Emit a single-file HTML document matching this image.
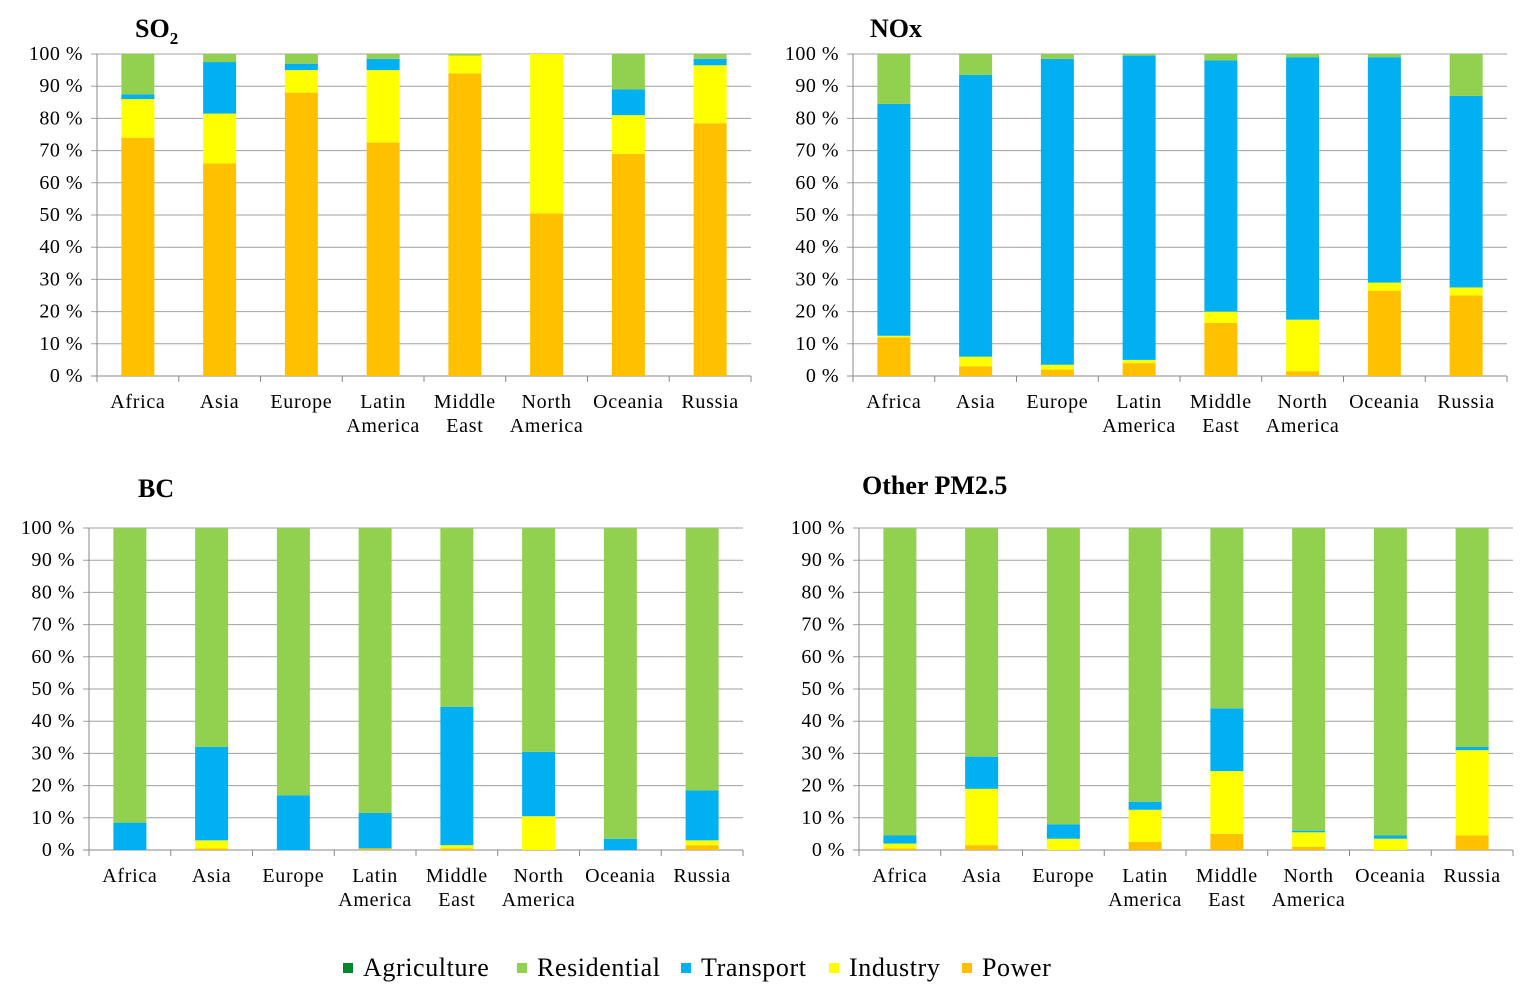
<!DOCTYPE html>
<html><head><meta charset="utf-8"><style>
body{margin:0;background:#fff;width:1533px;height:1001px;overflow:hidden;font-family:"Liberation Serif",serif}
</style></head><body>
<svg id="chart" width="1533" height="1001" xmlns="http://www.w3.org/2000/svg" font-family="Liberation Serif, serif"></svg>
<script>
const categories=[["Africa"],["Asia"],["Europe"],["Latin","America"],["Middle","East"],["North","America"],["Oceania"],["Russia"]];
const sectors=["Agriculture","Residential","Transport","Industry","Power"];
const colors={Agriculture:"#00882f",Residential:"#92d050",Transport:"#00b0f0",Industry:"#ffff00",Power:"#ffc000"};
const yTicks=[0,10,20,30,40,50,60,70,80,90,100];
const so2Power=[74,66,88,72.5,94,50.5,69,78.5];
const so2Industry=[12,15.5,7,22.5,5.5,49.5,12,18];
const so2Transport=[1.5,16,2,3.5,0,0,8,2];
const so2Residential=[12.5,2.5,3,1.5,0.5,0,11,1.5];
const noxPower=[12,3,2,4,16.5,1.5,26.5,25];
const noxIndustry=[0.5,3,1.5,1,3.5,16,2.5,2.5];
const noxTransport=[72,87.5,95,94.5,78,81.5,70,59.5];
const noxResidential=[15.5,6.5,1.5,0.5,2,1,1,13];
const bcPower=[0,0.5,0,0.5,0.5,0,0,1.5];
const bcIndustry=[0,2.5,0,0,1,10.5,0,1.5];
const bcTransport=[8.5,29,17,11,43,20,3.5,15.5];
const bcResidential=[91.5,68,83,88.5,55.5,69.5,96.5,81.5];
const pmPower=[0.5,1.5,0,2.5,5,1,0,4.5];
const pmIndustry=[1.5,17.5,3.5,10,19.5,4.5,3.5,26.5];
const pmTransport=[2.5,10,4.5,2.5,19.5,0.5,1,1];
const pmResidential=[95.5,71,92,85,56,94,95.5,68];
const zero=[0,0,0,0,0,0,0,0];
const panels=[
 {name:"so2",title:"SO",sub:"2",tx:135,ty:37,x0:97,x1:751,y0:376,y1:54,series:{Power:so2Power,Industry:so2Industry,Transport:so2Transport,Residential:so2Residential,Agriculture:zero}},
 {name:"nox",title:"NOx",tx:870,ty:37,x0:853,x1:1507,y0:376,y1:54,series:{Power:noxPower,Industry:noxIndustry,Transport:noxTransport,Residential:noxResidential,Agriculture:zero}},
 {name:"bc",title:"BC",tx:138,ty:497,x0:89,x1:743,y0:850,y1:528,series:{Power:bcPower,Industry:bcIndustry,Transport:bcTransport,Residential:bcResidential,Agriculture:zero}},
 {name:"pm25",title:"Other PM2.5",tx:862,ty:494,x0:859,x1:1513,y0:850,y1:528,series:{Power:pmPower,Industry:pmIndustry,Transport:pmTransport,Residential:pmResidential,Agriculture:zero}}
];
const NS="http://www.w3.org/2000/svg";
const svg=document.getElementById("chart");
function mk(tag,attrs,parent,text){const e=document.createElementNS(NS,tag);for(const k in attrs)e.setAttribute(k,attrs[k]);if(tag==="text")e.setAttribute("font-family","Liberation Serif");if(text!==undefined)e.textContent=text;(parent||svg).appendChild(e);return e;}
const order=["Power","Industry","Transport","Residential","Agriculture"];
panels.forEach(p=>{
 const g=mk("g",{});
 
 
 const yS=v=>p.y0+(p.y1-p.y0)*v/100;
 const bw=(p.x1-p.x0)/categories.length;
 const xS=i=>p.x0+bw*(i+0.5);
 yTicks.forEach(t=>{
  const l=mk("line",{x1:p.x0-6,x2:p.x1,y1:yS(t),y2:yS(t),stroke:t===0?"#888":"#a0a0a0","stroke-width":1},g);
  
  
  const tx=mk("text",{x:p.x0-14,y:yS(t)+6,"text-anchor":"end","font-size":"20","letter-spacing":"0.5"},g,t+" %");
  
  
 });
 mk("line",{x1:p.x0,x2:p.x0,y1:p.y1,y2:p.y0,stroke:"#888"},g);
 for(let i=0;i<=categories.length;i++){mk("line",{x1:p.x0+bw*i,x2:p.x0+bw*i,y1:p.y0,y2:p.y0+6,stroke:"#888"},g);}
 categories.forEach((c,i)=>{
  let acc=0;
  order.forEach(s=>{
   const v=p.series[s][i];
   if(v>0){
    const r=mk("rect",{x:xS(i)-16.5,width:33,y:yS(acc+v),height:yS(acc)-yS(acc+v),fill:colors[s]},g);
    
    
   }
   acc+=v;
  });
  c.forEach((line,k)=>{
   const t=mk("text",{x:xS(i),y:p.y0+32+k*24,"text-anchor":"middle","font-size":"20","letter-spacing":"0.7"},g,line);
   
   
  });
 });
 const tt=mk("text",{x:p.tx,y:p.ty,"font-size":"26","font-weight":"bold"},g,p.title);
 
 
 if(p.sub){mk("tspan",{"font-size":"17",dy:"7"},tt,p.sub);}
});
const legendX=[343,517,681,829,962];
sectors.forEach((s,i)=>{
 const lg=mk("g",{});
 
 
 mk("rect",{x:legendX[i],y:963,width:10,height:10,fill:colors[s]},lg);
 mk("text",{x:legendX[i]+20,y:976,"font-size":"26","letter-spacing":"0.6"},lg,s);
});
</script>
</body></html>
